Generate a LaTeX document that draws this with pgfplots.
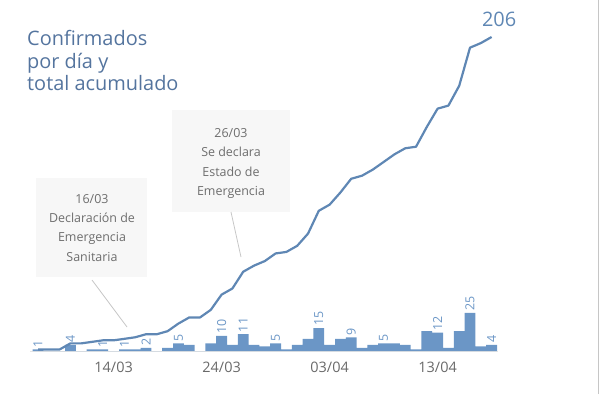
\documentclass[border=0pt]{standalone}
\usepackage{fontspec}
\setmainfont{Open Sans}
\usepackage{pgfplots}
\pgfplotsset{compat=1.18}
\definecolor{linec}{RGB}{95,135,180}
\definecolor{barc}{RGB}{107,150,198}
\definecolor{titc}{RGB}{84,116,158}
\definecolor{tickc}{RGB}{105,105,105}
\definecolor{annc}{RGB}{110,110,110}
\definecolor{boxc}{RGB}{247,247,247}
\begin{document}
\begin{tikzpicture}[x=1bp,y=1bp]
\useasboundingbox (0,0) rectangle (600,394);
% annotation boxes
\fill[boxc] (36,117) rectangle (147,216);
\fill[boxc] (172,182) rectangle (290,284);
\draw[gray!45, line width=0.8bp] (92,114) -- (127,67);
\draw[gray!45, line width=0.8bp] (231,182) -- (241,137);
\begin{axis}[at={(27.2bp,43bp)}, anchor=south west, scale only axis,
  width=486bp, height=314bp, xmin=-1, xmax=44, ymin=0, ymax=206,
  clip=false, axis line style={draw=none}, major tick length=0, ytick=\empty,
  xtick={7,17,27,37}, xticklabels={14/03,24/03,03/04,13/04},
  xticklabel style={font=\fontsize{14.5}{16}\selectfont, text=tickc, yshift=-7bp},
  /pgf/number format/assume math mode=true]
\draw[gray!20, line width=0.8bp] (axis cs:-0.7,0) -- (axis cs:42.6,0);
% daily confirmed
\addplot[ybar, bar width=1, fill=barc, draw=none] coordinates {
(0,1)(1,0)(2,0)(3,4)(4,0)(5,1)(6,1)(7,0)(8,1)(9,1)(10,2)(11,0)(12,2)(13,5)(14,4)
(15,0)(16,5)(17,10)(18,4)(19,11)(20,4)(21,3)(22,5)(23,1)(24,4)(25,8)(26,15)(27,4)
(28,8)(29,9)(30,2)(31,4)(32,5)(33,5)(34,4)(35,1)(36,13)(37,12)(38,2)(39,13)(40,25)
(41,3)(42,4)};
% cumulative
\addplot[linec, line width=2.2bp, mark=none, line join=round] coordinates {
(0,1)(1,1)(2,1)(3,5)(4,5)(5,6)(6,7)(7,7)(8,8)(9,9)(10,11)(11,11)(12,13)(13,18)
(14,22)(15,22)(16,27)(17,37)(18,41)(19,52)(20,56)(21,59)(22,64)(23,65)(24,69)
(25,77)(26,92)(27,96)(28,104)(29,113)(30,115)(31,119)(32,124)(33,129)(34,133)
(35,134)(36,147)(37,159)(38,161)(39,174)(40,199)(41,202)(42,206)};
% labels of selected days
\addplot[draw=none, mark=none, nodes near coords, point meta=y,
  every node near coord/.append style={rotate=90, anchor=west,
  font=\fontsize{12.5}{14}\selectfont, text=barc, inner sep=2bp}] coordinates {
(0,1)(3,4)(6,1)(8,1)(10,2)(13,5)(17,10)(19,11)(22,5)(26,15)(29,9)(32,5)(37,12)(40,25)(42,4)};
\node[anchor=base, font=\fontsize{20}{22}\selectfont, text=linec, inner sep=0]
  at (axis cs:42,206) [xshift=7.5bp, yshift=10bp] {206};
\end{axis}
% title
\node[anchor=base west, inner sep=0, font=\fontsize{20}{23}\selectfont, text=titc] at (27,349) {Confirmados};
\node[anchor=base west, inner sep=0, font=\fontsize{20}{23}\selectfont, text=titc] at (27,326) {por día y};
\node[anchor=base west, inner sep=0, font=\fontsize{20}{23}\selectfont, text=titc] at (27,304) {total acumulado};
% annotations
\begin{scope}[every node/.style={anchor=base, inner sep=0, font=\fontsize{12.5}{14}\selectfont, text=annc}]
\node at (92,191) {16/03};
\node at (92,172) {Declaración de};
\node at (92,153) {Emergencia};
\node at (92,133) {Sanitaria};
\node at (231,257) {26/03};
\node at (231,238) {Se declara};
\node at (231,218) {Estado de};
\node at (231,199) {Emergencia};
\end{scope}
\draw[gray!45, line width=1.5bp] (598.5,0) -- (598.5,394);
\end{tikzpicture}
\end{document}
